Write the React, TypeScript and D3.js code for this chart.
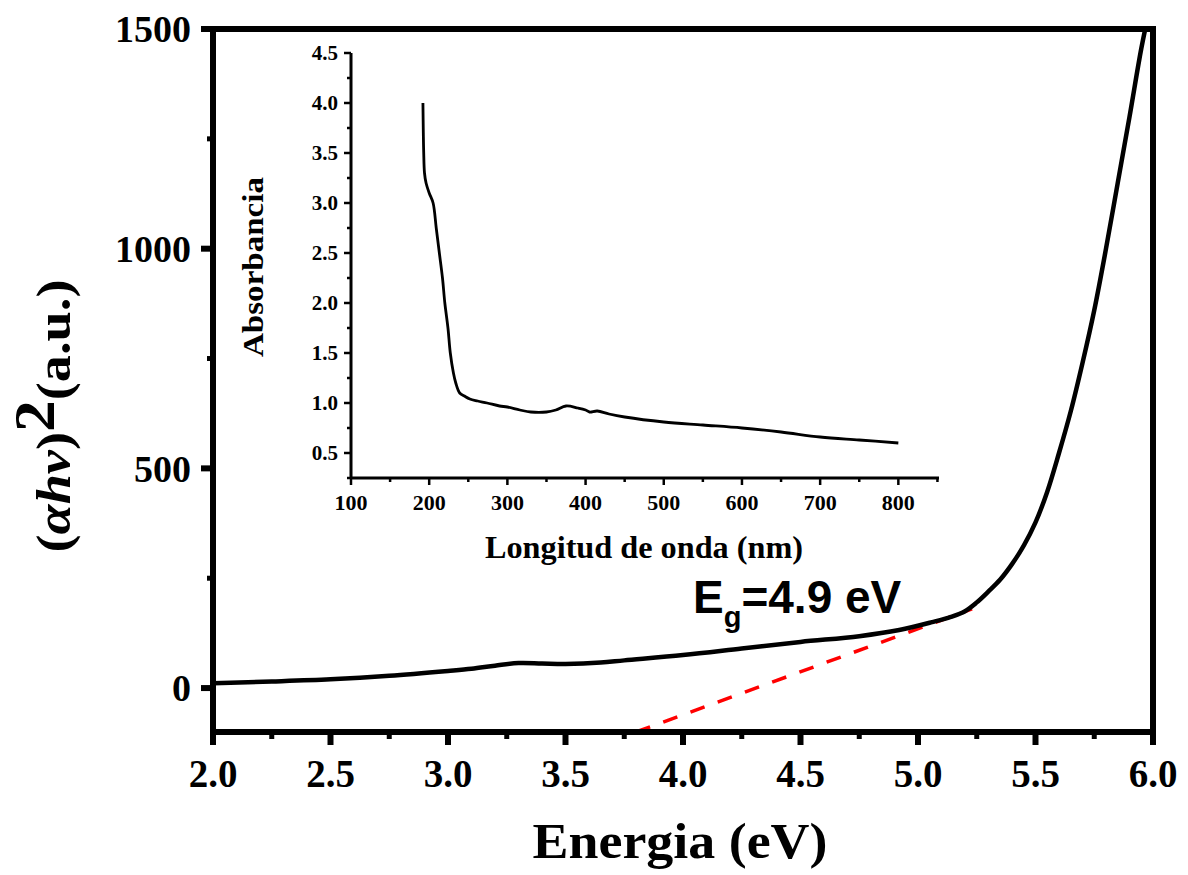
import React from 'react';
import * as d3 from 'd3';

// main plot: (αhν)² vs energia
const energy = [2.0, 2.25, 2.5, 2.75, 3.0, 3.1, 3.2, 3.3, 3.4, 3.5, 3.65, 3.75, 4.0, 4.25, 4.5, 4.75, 4.92, 5.06, 5.14, 5.2, 5.25, 5.3, 5.35, 5.4, 5.45, 5.5, 5.55, 5.6, 5.65, 5.7, 5.75, 5.8, 5.85, 5.9, 5.95, 5.975];
const alphaHv = [11, 15, 20, 28, 39, 44, 51, 57, 56, 55, 58, 63, 75, 90, 105, 118, 132, 150, 162, 175, 195, 220, 247, 282, 324, 377, 447, 535, 630, 740, 860, 1000, 1150, 1300, 1455, 1520];
const fitE = [3.8, 5.23];
const fitY = [-100, 180];
const xTicks = [2.0, 2.5, 3.0, 3.5, 4.0, 4.5, 5.0, 5.5, 6.0];
const yTicks = [0, 500, 1000, 1500];

// inset: absorbancia vs longitud de onda
const wavelength = [192, 192.5, 193, 194, 196, 200, 205, 209, 213, 217, 220, 224, 227, 231, 234, 239, 245, 252, 262, 274, 290, 300, 316, 330, 350, 362, 375, 390, 400, 405, 415, 430, 450, 500, 550, 600, 650, 700, 750, 800];
const absorb = [4.0, 3.7, 3.5, 3.3, 3.2, 3.1, 3.0, 2.75, 2.5, 2.25, 2.0, 1.75, 1.5, 1.3, 1.2, 1.1, 1.07, 1.04, 1.02, 1.0, 0.97, 0.96, 0.93, 0.91, 0.91, 0.93, 0.97, 0.95, 0.93, 0.91, 0.92, 0.89, 0.86, 0.81, 0.78, 0.75, 0.71, 0.66, 0.63, 0.6];
const insetXTicks = [100, 200, 300, 400, 500, 600, 700, 800];
const insetYTicks = [0.5, 1.0, 1.5, 2.0, 2.5, 3.0, 3.5, 4.0, 4.5];

const serif = '"Liberation Serif", "Times New Roman", serif';
const sans = '"Liberation Sans", Arial, sans-serif';

export default function App() {
  const left = 213, right = 1153, top = 29, bottom = 732;
  const x = d3.scaleLinear().domain([2, 6]).range([left, right]);
  const y = d3.scaleLinear().domain([-100, 1500]).range([bottom, top]);

  const ix = d3.scaleLinear().domain([100, 852]).range([351, 939]);
  const iy = d3.scaleLinear().domain([0.25, 4.5]).range([478, 53]);

  const mainLine = d3.line<number>().x((d, i) => x(energy[i])).y((d) => y(d)).curve(d3.curveCatmullRom.alpha(0.5));
  const fitLine = d3.line<number>().x((d, i) => x(fitE[i])).y((d) => y(d));
  const insetLine = d3.line<number>().x((d, i) => ix(wavelength[i])).y((d) => iy(d)).curve(d3.curveCatmullRom.alpha(0.5));

  const xMinor = d3.range(2.25, 6, 0.5);
  const yMinor = [250, 750, 1250];
  const ixMinor = d3.range(150, 851, 100);
  const iyMinor = d3.range(0.25, 4.3, 0.5);

  return (
    <svg width={1188} height={875} style={{ position: 'absolute', left: 0, top: 0, background: '#fff' }}>
      <defs>
        <clipPath id="plotClip">
          <rect x={left} y={top} width={right - left} height={bottom - top} />
        </clipPath>
      </defs>

      {/* main curve and fit */}
      <g clipPath="url(#plotClip)">
        <path d={fitLine(fitY) || ''} fill="none" stroke="#ff0000" strokeWidth={3.5} strokeDasharray="15,14" />
        <path d={mainLine(alphaHv) || ''} fill="none" stroke="#000" strokeWidth={4.5} />
      </g>

      {/* frame */}
      <rect x={left} y={top} width={right - left} height={bottom - top} fill="none" stroke="#000" strokeWidth={6} />

      {/* x axis ticks */}
      {xTicks.map((t) => (
        <g key={'x' + t}>
          <line x1={x(t)} x2={x(t)} y1={bottom} y2={bottom + 13} stroke="#000" strokeWidth={6} />
          <text x={x(t)} y={787} textAnchor="middle" fontFamily={serif} fontWeight="bold" fontSize={39}>
            {t.toFixed(1)}
          </text>
        </g>
      ))}
      {xMinor.map((t) => (
        <line key={'xm' + t} x1={x(t)} x2={x(t)} y1={bottom} y2={bottom + 7} stroke="#000" strokeWidth={5} />
      ))}

      {/* y axis ticks */}
      {yTicks.map((t) => (
        <g key={'y' + t}>
          <line x1={left} x2={left - 12} y1={y(t)} y2={y(t)} stroke="#000" strokeWidth={6} />
          <text x={191} y={y(t)} dy="0.35em" textAnchor="end" fontFamily={serif} fontWeight="bold" fontSize={38}>
            {t}
          </text>
        </g>
      ))}
      {yMinor.map((t) => (
        <line key={'ym' + t} x1={left} x2={left - 6} y1={y(t)} y2={y(t)} stroke="#000" strokeWidth={5} />
      ))}

      {/* axis titles */}
      <text x={680} y={858} textAnchor="middle" fontFamily={serif} fontWeight="bold" fontSize={50}
        textLength={295} lengthAdjust="spacingAndGlyphs">
        Energia (eV)
      </text>
      <text transform="translate(70,416) rotate(-90)" textAnchor="middle" fontFamily={serif} fontWeight="bold"
        fontSize={48} textLength={273} lengthAdjust="spacingAndGlyphs">
        (<tspan fontStyle="italic">αhν</tspan>)<tspan fontSize={56} dy={-16}>2</tspan><tspan dy={16}>(a.u.)</tspan>
      </text>

      {/* band gap label */}
      <text x={693} y={613} fontFamily={sans} fontWeight="bold" fontSize={46}>
        E<tspan fontSize={29} dy={14}>g</tspan><tspan dy={-14}>=4.9 eV</tspan>
      </text>

      {/* inset */}
      <path d={insetLine(absorb) || ''} fill="none" stroke="#000" strokeWidth={2.8} strokeLinejoin="round" />
      <line x1={351} x2={351} y1={53} y2={478} stroke="#000" strokeWidth={3} />
      <line x1={351} x2={939} y1={478} y2={478} stroke="#000" strokeWidth={3} />
      {insetYTicks.map((t) => (
        <g key={'iy' + t}>
          <line x1={351} x2={344} y1={iy(t)} y2={iy(t)} stroke="#000" strokeWidth={2.5} />
          <text x={338} y={iy(t)} dy="0.35em" textAnchor="end" fontFamily={serif} fontWeight="bold" fontSize={21}>
            {t.toFixed(1)}
          </text>
        </g>
      ))}
      {iyMinor.map((t) => (
        <line key={'iym' + t} x1={351} x2={347} y1={iy(t)} y2={iy(t)} stroke="#000" strokeWidth={2.5} />
      ))}
      {insetXTicks.map((t) => (
        <g key={'ix' + t}>
          <line x1={ix(t)} x2={ix(t)} y1={478} y2={485} stroke="#000" strokeWidth={2.5} />
          <text x={ix(t)} y={510} textAnchor="middle" fontFamily={serif} fontWeight="bold" fontSize={22}>
            {t}
          </text>
        </g>
      ))}
      {ixMinor.map((t) => (
        <line key={'ixm' + t} x1={ix(t)} x2={ix(t)} y1={478} y2={482} stroke="#000" strokeWidth={2.5} />
      ))}
      <text transform="translate(263,267) rotate(-90)" textAnchor="middle" fontFamily={serif} fontWeight="bold"
        fontSize={30} textLength={180} lengthAdjust="spacingAndGlyphs">
        Absorbancia
      </text>
      <text x={644} y={558} textAnchor="middle" fontFamily={serif} fontWeight="bold" fontSize={32}
        textLength={318} lengthAdjust="spacingAndGlyphs">
        Longitud de onda (nm)
      </text>
    </svg>
  );
}
